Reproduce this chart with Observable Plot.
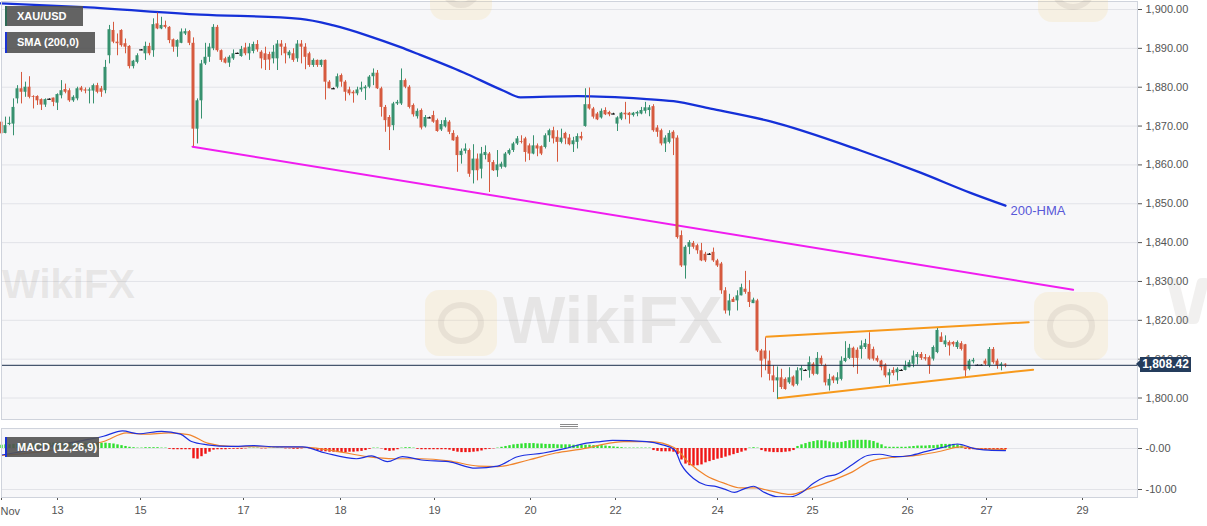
<!DOCTYPE html>
<html><head><meta charset="utf-8">
<script src="https://cdn.jsdelivr.net/npm/d3@7"></script>
<script src="https://cdn.jsdelivr.net/npm/@observablehq/plot@0.6"></script>
<style>
html,body{margin:0;padding:0;background:#fff;overflow:hidden;}
#wrap{position:relative;width:1207px;height:526px;overflow:hidden;font-family:"Liberation Sans",Arial,sans-serif;}
#main,#macd{position:absolute;left:0;}
#main{top:0;} #macd{top:420px;}
.tag{position:absolute;left:5px;height:20px;line-height:20px;background:rgba(82,82,82,0.9);color:#fff;font-size:11px;font-weight:bold;padding-left:10px;box-sizing:border-box;border-left:2px solid #1b33d4;white-space:nowrap;}
.wmText{position:absolute;pointer-events:none;font-weight:bold;color:rgba(150,140,130,0.17);font-family:"Liberation Sans",Arial,sans-serif;white-space:nowrap;}
.logo{position:absolute;pointer-events:none;border-radius:14px;background:rgba(246,214,140,0.20);}
.logo::after{content:"";position:absolute;left:18%;top:18%;width:64%;height:64%;border-radius:50%;border:6px solid rgba(160,150,140,0.16);box-sizing:border-box;}
.wmW{position:absolute;pointer-events:none;background:rgba(150,140,130,0.13);border-radius:4px;}
#pricebox{position:absolute;left:1140px;width:51px;height:15px;line-height:15px;background:#243c5c;color:#fff;font-size:12px;font-weight:bold;text-align:center;}
#pricebox::before{content:"";position:absolute;left:-4px;top:3px;border-top:4.5px solid transparent;border-bottom:4.5px solid transparent;border-right:4px solid #243c5c;}
.handle{position:absolute;left:560px;width:18px;height:1px;background:#8a8a8a;}
</style></head><body>
<div id="wrap">
  <div id="main"></div>
  <div id="macd"></div>
</div>
<script>
// ---- data (hourly candles, index 0 = first visible candle) ----
const opens = [
1871.0,1868.1,1870.4,1870.5,1877.0,1879.6,1878.7,1880.0,1877.6,1877.6,
1876.8,1875.4,1876.9,1877.2,1875.9,1877.8,1879.4,1879.1,1876.5,1877.0,
1879.8,1879.3,1879.0,1879.0,1880.4,1879.6,1879.1,1888.1,1894.6,1891.6,
1894.6,1891.2,1890.5,1885.3,1886.4,1889.6,1888.6,1890.5,1889.4,1896.3,
1895.0,1895.9,1895.4,1892.2,1890.3,1891.3,1893.7,1894.3,1891.3,1869.2,
1876.5,1886.0,1887.7,1889.9,1895.4,1889.4,1887.3,1886.2,1887.3,1888.7,
1887.9,1890.1,1888.6,1889.2,1891.0,1889.0,1888.6,1888.4,1887.3,1887.3,
1891.1,1890.3,1888.1,1888.6,1887.3,1891.1,1890.3,1888.6,1885.6,1886.9,
1885.6,1886.9,1881.3,1879.6,1880.0,1883.0,1881.3,1879.3,1878.7,1878.3,
1879.3,1879.6,1880.0,1882.7,1883.6,1879.6,1874.8,1872.2,1870.1,1875.7,
1875.7,1881.7,1880.0,1875.3,1872.4,1874.0,1869.8,1872.1,1872.7,1871.4,
1869.0,1869.8,1871.0,1868.1,1867.1,1862.4,1863.5,1863.7,1858.5,1861.5,
1858.9,1862.4,1862.8,1860.6,1858.5,1859.4,1859.4,1862.8,1863.7,1865.4,
1866.0,1866.7,1864.9,1862.8,1864.9,1864.7,1864.5,1867.5,1868.8,1867.1,
1865.8,1868.1,1866.9,1865.2,1865.8,1867.3,1869.9,1875.5,1874.4,1873.1,
1872.1,1874.0,1873.5,1873.1,1870.5,1871.8,1873.3,1873.3,1872.7,1873.1,
1873.1,1873.8,1874.0,1875.0,1869.5,1868.8,1865.4,1865.8,1868.4,1866.9,
1841.8,1834.0,1838.8,1839.8,1839.2,1837.9,1837.0,1837.0,1837.5,1835.3,
1834.5,1827.6,1822.4,1825.4,1825.0,1826.3,1828.0,1827.2,1824.3,1825.0,
1812.1,1812.1,1809.5,1805.7,1804.4,1805.2,1804.8,1803.9,1805.4,1803.5,
1807.0,1807.1,1807.0,1808.7,1806.1,1810.2,1808.3,1803.1,1805.4,1804.4,
1804.8,1809.4,1810.2,1812.8,1812.3,1812.5,1813.0,1813.8,1812.5,1810.2,
1809.5,1808.5,1805.7,1807.1,1806.5,1807.1,1807.1,1807.8,1808.7,1810.4,
1811.2,1810.4,1810.4,1810.0,1811.7,1815.7,1813.7,1814.3,1814.3,1813.0,
1814.0,1813.7,1807.4,1809.3,1808.4,1808.4,1809.5,1808.3,1812.5,1809.5,
1808.3,1808.7];
const highs = [
1871.4,1872.3,1872.3,1877.0,1880.4,1883.8,1881.3,1882.7,1877.8,1877.8,
1877.0,1877.0,1877.0,1877.2,1878.3,1881.7,1880.8,1879.6,1877.8,1880.0,
1880.2,1879.8,1879.8,1880.8,1881.0,1880.2,1886.9,1895.9,1896.7,1893.7,
1894.8,1892.4,1890.7,1886.9,1888.6,1889.7,1891.6,1891.3,1897.6,1899.1,
1898.0,1897.0,1895.6,1892.4,1892.2,1895.0,1895.0,1894.6,1892.7,1877.0,
1886.9,1891.3,1891.2,1896.1,1895.9,1889.6,1887.7,1888.1,1889.6,1888.8,
1890.5,1891.3,1891.2,1891.6,1892.0,1889.4,1890.3,1889.0,1890.7,1892.0,
1892.0,1891.2,1889.4,1889.9,1892.0,1892.0,1891.2,1889.0,1887.3,1887.0,
1887.0,1887.0,1881.7,1879.8,1883.4,1883.4,1881.7,1880.0,1879.1,1880.0,
1881.3,1880.4,1883.0,1884.7,1884.3,1880.0,1875.3,1872.7,1876.1,1876.6,
1884.7,1882.1,1880.4,1875.7,1874.4,1874.4,1872.7,1872.3,1873.8,1871.8,
1871.4,1872.1,1871.4,1868.8,1867.5,1864.1,1865.4,1864.1,1865.2,1862.8,
1864.5,1864.9,1863.2,1861.1,1863.7,1860.7,1863.2,1864.1,1865.8,1867.3,
1867.5,1867.1,1865.4,1867.5,1865.4,1864.9,1868.0,1869.2,1869.7,1868.8,
1869.2,1868.4,1867.8,1867.1,1868.0,1868.4,1879.6,1879.8,1874.8,1873.5,
1874.4,1874.7,1873.8,1873.3,1872.4,1873.5,1876.1,1873.5,1873.5,1873.8,
1874.8,1876.1,1875.3,1875.5,1870.1,1869.2,1867.5,1868.8,1868.8,1867.5,
1843.0,1839.2,1840.5,1840.3,1839.6,1839.8,1837.5,1837.2,1838.6,1835.7,
1834.9,1828.4,1826.7,1825.9,1827.6,1829.3,1832.6,1830.2,1825.7,1825.4,
1812.5,1815.5,1812.1,1808.3,1808.0,1807.4,1805.2,1807.8,1805.7,1807.8,
1808.3,1807.3,1810.6,1809.1,1811.7,1810.8,1808.7,1806.1,1805.7,1806.5,
1810.6,1814.5,1813.8,1813.1,1812.9,1814.7,1815.1,1816.8,1813.1,1810.8,
1809.7,1808.8,1807.4,1807.8,1807.8,1807.3,1809.5,1809.7,1812.1,1811.7,
1811.7,1811.2,1810.8,1813.4,1817.9,1816.8,1816.0,1814.7,1814.5,1814.7,
1814.5,1813.8,1809.9,1810.2,1808.5,1808.5,1810.0,1813.0,1813.0,1810.0,
1809.1,1808.8];
const lows = [
1867.1,1868.0,1870.1,1867.5,1875.7,1875.7,1877.4,1877.0,1874.4,1875.3,
1874.0,1874.8,1876.7,1875.0,1874.0,1877.0,1878.3,1876.1,1876.1,1876.5,
1878.7,1878.3,1875.7,1875.7,1878.3,1877.4,1878.3,1886.0,1891.2,1888.1,
1890.3,1888.6,1884.7,1884.7,1886.0,1889.4,1886.9,1888.1,1887.7,1894.8,
1894.8,1895.0,1891.2,1889.0,1887.7,1891.2,1893.3,1890.7,1864.7,1865.4,
1871.8,1885.6,1886.4,1889.4,1889.0,1886.4,1886.0,1885.1,1886.9,1888.6,
1887.7,1888.1,1886.9,1888.6,1889.0,1884.7,1884.3,1884.3,1886.0,1884.3,
1888.1,1886.0,1887.3,1886.4,1886.4,1886.0,1884.5,1885.1,1885.1,1885.1,
1885.1,1876.7,1879.6,1879.4,1879.6,1880.0,1876.4,1877.8,1875.9,1877.8,
1878.7,1876.6,1879.6,1880.4,1879.4,1872.3,1868.4,1863.7,1868.8,1875.3,
1875.3,1879.6,1874.4,1872.3,1871.8,1869.0,1869.5,1871.9,1870.7,1868.4,
1868.6,1869.5,1867.8,1866.1,1858.1,1860.2,1862.8,1856.8,1855.1,1855.9,
1856.4,1861.3,1852.9,1858.3,1856.8,1858.9,1859.2,1862.4,1863.2,1865.0,
1865.4,1860.7,1861.1,1862.6,1862.1,1862.4,1864.1,1865.8,1865.4,1860.7,
1865.4,1865.2,1864.9,1863.2,1864.1,1866.2,1869.7,1874.1,1871.8,1871.4,
1871.8,1872.7,1872.4,1872.9,1868.6,1871.4,1871.6,1870.5,1872.3,1872.4,
1872.9,1873.1,1872.4,1868.4,1867.1,1864.9,1863.2,1865.4,1862.4,1840.9,
1833.6,1830.6,1836.9,1838.3,1837.0,1835.1,1834.9,1836.8,1834.9,1833.6,
1826.7,1821.6,1821.1,1824.6,1822.4,1826.3,1826.7,1823.3,1824.3,1811.7,
1805.2,1807.0,1804.4,1801.4,1799.7,1802.2,1802.0,1803.5,1802.8,1803.1,
1804.4,1806.9,1805.1,1805.7,1805.9,1808.3,1803.1,1801.8,1803.7,1803.5,
1804.4,1809.1,1809.9,1807.8,1806.1,1810.0,1812.5,1809.7,1809.5,1809.1,
1807.0,1805.2,1803.5,1805.7,1804.4,1806.9,1807.0,1807.8,1807.8,1808.5,
1809.7,1809.5,1806.1,1809.5,1811.4,1814.3,1813.0,1810.8,1813.1,1812.5,
1812.1,1805.4,1807.0,1808.8,1808.3,1808.3,1808.3,1807.8,1808.7,1807.4,
1807.0,1807.8];
const closes = [
1868.0,1870.1,1870.7,1874.8,1879.6,1878.7,1880.0,1877.4,1877.4,1876.5,
1875.4,1876.8,1876.9,1876.1,1878.1,1879.1,1878.7,1876.5,1877.4,1879.6,
1879.1,1879.0,1879.3,1880.4,1878.7,1878.7,1885.1,1894.8,1891.6,1891.2,
1890.7,1890.3,1885.3,1886.7,1888.1,1889.6,1890.5,1888.6,1896.1,1895.0,
1895.9,1895.4,1892.0,1890.3,1892.0,1894.2,1894.3,1891.3,1869.2,1876.5,
1886.0,1887.7,1890.3,1895.4,1889.4,1886.9,1886.2,1887.7,1888.6,1888.7,
1889.7,1888.6,1890.3,1891.0,1889.6,1887.3,1886.9,1887.0,1889.0,1891.1,
1890.3,1888.6,1889.0,1886.9,1891.1,1890.3,1887.7,1885.6,1886.9,1885.6,
1886.9,1881.3,1879.6,1879.6,1882.7,1881.3,1878.7,1878.3,1878.3,1879.3,
1879.8,1880.0,1882.6,1883.6,1879.6,1874.8,1871.4,1869.7,1875.7,1876.1,
1881.7,1880.0,1874.8,1872.9,1873.8,1869.5,1872.2,1872.1,1871.0,1868.6,
1870.4,1871.4,1868.4,1866.2,1862.4,1863.5,1864.1,1857.6,1861.5,1858.5,
1862.8,1863.2,1860.6,1858.5,1860.0,1860.2,1862.8,1863.7,1865.4,1866.7,
1865.8,1863.2,1862.8,1864.9,1864.1,1862.8,1867.5,1868.8,1866.7,1865.8,
1866.9,1866.7,1865.2,1866.2,1867.3,1866.7,1875.5,1874.4,1872.3,1871.6,
1873.8,1872.9,1872.9,1873.1,1872.1,1873.3,1872.9,1872.7,1873.3,1873.5,
1874.0,1874.7,1874.7,1868.8,1868.4,1865.4,1866.9,1868.1,1866.7,1841.3,
1834.0,1838.8,1840.0,1838.8,1837.9,1835.3,1835.3,1837.0,1835.3,1834.0,
1827.6,1822.4,1825.0,1824.6,1826.3,1828.4,1827.2,1824.6,1825.2,1812.1,
1809.5,1810.0,1806.1,1804.4,1805.2,1802.7,1802.2,1805.2,1803.1,1807.0,
1807.6,1807.1,1809.1,1806.1,1810.2,1808.7,1803.9,1804.8,1804.4,1805.2,
1809.5,1810.2,1812.8,1810.2,1810.2,1813.4,1814.0,1810.0,1810.0,1809.5,
1807.8,1805.7,1806.5,1806.3,1807.4,1807.1,1808.3,1809.1,1810.8,1811.2,
1810.2,1810.0,1808.3,1813.0,1817.4,1814.3,1814.7,1813.4,1813.7,1814.3,
1812.5,1807.0,1809.5,1809.7,1808.4,1808.4,1808.7,1812.5,1809.1,1808.3,
1808.7,1808.42];

// 200-HMA line (candle index, price)
const hmaX = [-0.25,20.5,49.75,74.75,83,91.5,99.75,104,115.5,125.5,129.75,144,160.5,168,177.25,192.25,214.75,229.75,242.25,251];
const hmaY = [1901.6,1900.6,1898.7,1897.6,1895.9,1893.3,1890.3,1888.6,1883.8,1879.1,1877.4,1877.7,1877.0,1876.4,1874.5,1871.2,1863.7,1858.0,1852.8,1849.5];

// drawn trend lines (candle index, price)
const magentaX = [47.75, 267.9], magentaY = [1864.7, 1827.85];
const upperX = [191.2, 256.8], upperY = [1815.8, 1819.5];
const lowerX = [194.1, 257.9], lowerY = [1799.95, 1807.3];

const lastPrice = 1808.42;
const hmaLabel = {x: 252.25, y: 1848.3, t: "200-HMA"};

// MACD (12,26,9)
const macdX = [0,6,12,20.5,25.5,30.25,34.25,40,44.75,47.5,51.5,57.25,63,68.75,75.25,81,88.75,92.5,96.5,100.25,105,111.75,118.5,124,129,135.5,140.5,146.25,149.75,152.75,161.25,165.25,168.25,170,173,176,178.75,180.75,183.25,185.5,188,190.5,194.25,197.25,200.25,203,206,208.75,212.75,216.5,219.5,223.5,227.25,231.25,235,239,240.25,242.75,246.75,251];
const macdV = [-1.6,-0.6,0.5,2.0,3.0,4.3,3.6,4.2,3.5,1.7,0.9,0.5,0.7,0.4,0.4,-1.1,-2.5,-1.8,-3.2,-2.0,-2.8,-3.2,-4.8,-4.3,-2.0,-1.1,-0.1,1.3,1.7,2.0,1.7,0.9,-0.3,-4.0,-7.3,-8.9,-9.3,-9.9,-10.7,-9.9,-9.2,-10.6,-11.8,-11.8,-10.6,-8.5,-6.9,-6.3,-3.9,-1.7,-1.4,-2.0,-1.7,-0.7,0.2,1.1,0.9,0.1,-0.4,-0.5];
const signalX = [0,6,12,20.5,25.5,31.25,36,41.75,46.75,51.5,57.25,66.75,76.25,84,91.5,98.25,105,111.75,119.25,124,131.75,138.5,146.25,149.75,155.5,162.25,168.25,172,176,180.75,184.75,188.5,192.5,197.25,202,208,212.75,217.5,222.5,229.25,235,239.75,244.75,251];
const signalV = [-1.7,-1.2,-0.5,0.8,1.7,3.8,3.5,3.8,3.4,1.3,0.5,0.4,0.3,-0.7,-2.0,-2.5,-2.5,-3.0,-4.3,-4.4,-2.8,-1.1,0.1,0.9,1.7,1.7,0.2,-3.6,-6.5,-8.5,-9.6,-9.6,-10.4,-11.2,-9.8,-7.7,-5.7,-3.0,-2.2,-1.6,-0.6,0.4,-0.1,-0.2];
const histV = [
0.8,0.9,0.9,1.0,1.0,1.0,
1.1,1.1,1.2,1.2,1.2,1.3,1.3,1.3,1.3,1.4,1.4,1.4,1.4,1.3,1.3,1.3,1.3,1.3,1.3,
1.3,1.3,1.2,1.1,0.9,0.7,0.5,0.3,0.2,
0.1,0.1,0.2,0.2,0.2,0.2,0.1,0.1,
-0.2,-0.3,-0.3,-0.3,-0.3,-0.3,
-2.5,-2.6,-2.0,-1.4,-0.9,
-0.4,-0.3,-0.3,-0.3,-0.2,-0.2,-0.2,-0.2,-0.1,
0.1,0.1,0.1,-0.1,-0.1,0.1,0.1,0.1,0.1,-0.1,-0.1,-0.2,-0.2,-0.1,0.1,-0.1,-0.2,
-0.5,-0.7,-0.8,-0.9,-0.9,-1.0,-1.0,-1.0,-0.9,-0.9,-0.8,-0.7,-0.5,
-0.2,0.1,0.1,-0.1,
-0.5,-0.7,-0.6,-0.3,
0.1,0.2,0.2,0.1,
-0.2,-0.3,-0.3,-0.3,-0.3,-0.3,-0.3,-0.3,-0.4,
-0.7,-0.9,-1.0,-1.0,-1.0,-0.9,-0.8,-0.6,
-0.3,-0.2,-0.1,0.1,
0.3,0.5,0.7,0.9,1.0,1.1,1.2,1.2,1.2,1.1,1.1,1.0,1.0,1.0,0.9,0.9,
0.9,0.9,0.8,0.8,0.8,0.8,0.8,0.7,0.7,0.7,
0.6,0.5,0.4,0.3,0.2,0.1,0.1,
0.1,0.1,0.1,0.1,0.1,
-0.5,-0.7,-0.8,-0.8,-0.8,-0.9,
-1.5,-2.8,-3.8,-4.2,-4.3,-4.2,-4.0,
-3.5,-3.2,-2.9,-2.6,-2.4,-2.1,-1.8,-1.5,-1.2,-0.9,-0.6,
0.1,0.2,0.1,
-0.5,-0.8,-0.9,-1.0,-1.0,-1.0,-0.9,-0.8,-0.5,
0.5,0.9,1.2,1.5,1.7,1.9,1.9,1.8,1.6,
1.4,1.4,1.5,
1.7,1.9,2.0,2.0,2.0,2.0,1.9,1.7,1.3,0.9,
0.4,0.3,0.3,0.3,0.3,0.3,0.4,
0.5,0.6,0.6,0.6,0.7,0.7,0.8,
1.0,1.0,1.0,1.0,0.9,0.6,
-0.2,-0.3,-0.3,-0.3,-0.4,-0.4,-0.3,-0.3,-0.3,-0.3,-0.3];

// axis ticks
const priceTicks = [1800,1810,1820,1830,1840,1850,1860,1870,1880,1890,1900];
const macdTicks = [0, -10];
const dayTickIdx = [0, 14, 34.75, 60.5, 84.75, 108.25, 132.25, 153.5, 179, 202.75, 226.5, 246.25, 270.25];
const dayLabels = ["", "13","15","17","18","19","20","22","24","25","26","27","29"];
const monthLabel = {x: -0.25, y: -15.37, t: "Nov"};

// ---- build ----
const GREEN = "#37916f", RED = "#d65a3f";
const candles = opens.map((o, i) => ({i, o, h: highs[i], l: lows[i], c: closes[i]}));
const up = candles.filter(d => d.c > d.o);
const down = candles.filter(d => d.c < d.o);
const flat = candles.filter(d => d.c === d.o);
const pts = (xs, ys) => xs.map((x, k) => ({x, y: ys[k]}));
const hist = histV.map((v, i) => ({i, v}));

const font = "'Liberation Sans', Arial, sans-serif";
const X = {domain: [0, 284]};

const main = Plot.plot({
  width: 1207, height: 420,
  marginLeft: 1, marginRight: 70, marginTop: 1, marginBottom: 1,
  x: {...X, axis: null},
  y: {domain: [1794.47, 1902.06], axis: "right", ticks: priceTicks, tickFormat: d3.format(",.2f"), tickSize: 4, tickPadding: 4, label: null},
  style: {fontFamily: font, fontSize: "11px", color: "#555", background: "transparent", overflow: "visible"},
  marks: [
    Plot.frame({fill: "#f7f7f9", stroke: "none"}),
    Plot.ruleY(priceTicks, {stroke: "#e2e3e8"}),
    Plot.line(pts(magentaX, magentaY), {x: "x", y: "y", stroke: "#f01df0", strokeWidth: 2}),
    Plot.line(pts(upperX, upperY), {x: "x", y: "y", stroke: "#f7991c", strokeWidth: 2}),
    Plot.line(pts(lowerX, lowerY), {x: "x", y: "y", stroke: "#f7991c", strokeWidth: 2}),
    Plot.line(pts(hmaX, hmaY), {x: "x", y: "y", stroke: "#1530d8", strokeWidth: 2.3, curve: "monotone-x"}),
    Plot.ruleX(up, {x: "i", y1: "l", y2: "h", stroke: GREEN, strokeWidth: 1}),
    Plot.ruleX(down, {x: "i", y1: "l", y2: "h", stroke: RED, strokeWidth: 1}),
    Plot.ruleX(flat, {x: "i", y1: "l", y2: "h", stroke: "#222", strokeWidth: 1}),
    Plot.rect(up, {x1: d => d.i - 0.375, x2: d => d.i + 0.375, y1: "o", y2: "c", fill: GREEN}),
    Plot.rect(down, {x1: d => d.i - 0.375, x2: d => d.i + 0.375, y1: "o", y2: "c", fill: RED}),
    Plot.ruleY(flat, {y: "c", x1: d => d.i - 0.45, x2: d => d.i + 0.45, stroke: "#111", strokeWidth: 1.2}),
    Plot.ruleY([lastPrice], {stroke: "#1b2e4b", strokeWidth: 1}),
    Plot.text([hmaLabel], {x: "x", y: "y", text: "t", textAnchor: "start", fill: "#5858d8", fontSize: 13}),
    Plot.frame({stroke: "#cfd3dc"})
  ]
});
document.getElementById("main").appendChild(main);

const macd = Plot.plot({
  width: 1207, height: 106,
  marginLeft: 1, marginRight: 70, marginTop: 8, marginBottom: 29,
  x: {...X, ticks: dayTickIdx, tickFormat: d => { const k = dayTickIdx.indexOf(d); return k >= 0 ? dayLabels[k] : ""; }, tickSize: 3, tickPadding: 6, label: null},
  y: {domain: [-11.95, 4.88], axis: "right", ticks: macdTicks, tickFormat: d => d === 0 ? "-0.00" : d.toFixed(2), tickSize: 4, tickPadding: 4, label: null},
  style: {fontFamily: font, fontSize: "11px", color: "#555", background: "transparent", overflow: "visible"},
  marks: [
    Plot.frame({fill: "#f7f7f9", stroke: "none"}),
    Plot.ruleY(macdTicks, {stroke: "#e2e3e8"}),
    Plot.ruleX(hist.filter(d => d.v > 0), {x: "i", y1: 0, y2: "v", stroke: "#2fe02f", strokeWidth: 2.4}),
    Plot.ruleX(hist.filter(d => d.v < 0), {x: "i", y1: 0, y2: "v", stroke: "#f01414", strokeWidth: 2.4}),
    Plot.line(pts(signalX, signalV), {x: "x", y: "y", stroke: "#f0842c", strokeWidth: 1.2, curve: "monotone-x"}),
    Plot.line(pts(macdX, macdV), {x: "x", y: "y", stroke: "#1c2fe0", strokeWidth: 1.2, curve: "monotone-x"}),
    Plot.text([monthLabel], {x: "x", y: "y", text: "t", textAnchor: "start", fill: "#555", fontSize: 11}),
    Plot.frame({stroke: "#cfd3dc"})
  ]
});
document.getElementById("macd").appendChild(macd);

// ---- overlays ----
const wrap = document.getElementById("wrap");
function add(cls, css, text) {
  const el = document.createElement("div");
  el.className = cls;
  Object.assign(el.style, css);
  if (text) el.textContent = text;
  wrap.appendChild(el);
  return el;
}
// watermarks
add("logo", {left: "425px", top: "290px", width: "72px", height: "66px"});
add("wmText", {left: "503px", top: "282px", fontSize: "66px"}, "WikiFX");
add("wmText", {left: "2px", top: "262px", fontSize: "40px"}, "WikiFX");
add("logo", {left: "1034px", top: "292px", width: "74px", height: "68px"});
add("wmW", {left: "1172px", top: "278px", width: "12px", height: "46px", transform: "skewX(14deg)"});
add("wmW", {left: "1192px", top: "278px", width: "12px", height: "46px", transform: "skewX(-14deg)"});
add("logo", {left: "430px", top: "-46px", width: "62px", height: "66px"});
add("logo", {left: "1038px", top: "-46px", width: "70px", height: "68px"});

// legend tags
add("tag", {top: "6px", width: "78px", borderLeftColor: "#2d6a55"}, "XAU/USD");
add("tag", {top: "32px", width: "90px", height: "21px", lineHeight: "21px"}, "SMA (200,0)");
add("tag", {top: "437px", width: "94px"}, "MACD (12,26,9)");

// panel drag handle
add("handle", {top: "424px"});
add("handle", {top: "426px"});
add("handle", {top: "428px", background: "#b5b5b5"});

// last price tag
const ys = main.scale("y");
const yPix = ys && ys.apply ? ys.apply(lastPrice) : d3.scaleLinear(ys.domain, ys.range)(lastPrice);
const pb = document.createElement("div");
pb.id = "pricebox";
pb.style.top = (yPix - 7.5) + "px";
pb.textContent = d3.format(",.2f")(lastPrice);
wrap.appendChild(pb);
</script>
</body></html>
